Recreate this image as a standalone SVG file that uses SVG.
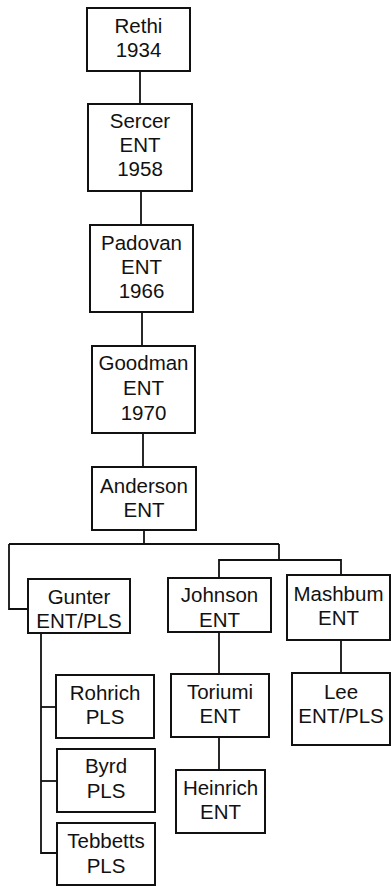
<svg xmlns="http://www.w3.org/2000/svg" width="391" height="887" viewBox="0 0 391 887">
<style>
.box{fill:#fff;stroke:#111;stroke-width:2}
.ln{fill:none;stroke:#111;stroke-width:1.8}
text{font-family:"Liberation Sans",Arial,sans-serif;font-size:20.5px;fill:#111;text-anchor:middle}
</style>
<rect width="391" height="887" fill="#fff"/>
<g id="connectors" class="ln">
<path d="M140 71V104"/>
<path d="M141 191V225"/>
<path d="M142 312V346"/>
<path d="M143 433V467"/>
<path d="M144 530V544"/>
<path d="M9 544H279"/>
<path d="M9 544V609H28"/>
<path d="M279 544V560"/>
<path d="M219 578V560H341V575"/>
<path d="M41 633V853H57"/>
<path d="M41 707H56"/>
<path d="M41 781H57"/>
<path d="M219 632V674"/>
<path d="M219 737V770"/>
<path d="M341 640V673"/>
</g>
<g id="rethi"><rect class="box" x="87" y="8" width="103" height="63"/><text x="138.5" y="33">Rethi</text><text x="138.5" y="57">1934</text></g>
<g id="sercer"><rect class="box" x="88" y="104" width="104" height="87"/><text x="140" y="128">Sercer</text><text x="140" y="152">ENT</text><text x="140" y="176">1958</text></g>
<g id="padovan"><rect class="box" x="90" y="225" width="103" height="87"/><text x="141.5" y="250">Padovan</text><text x="141.5" y="274">ENT</text><text x="141.5" y="298">1966</text></g>
<g id="goodman"><rect class="box" x="92" y="346" width="103" height="87"/><text x="143.5" y="370">Goodman</text><text x="143.5" y="395">ENT</text><text x="143.5" y="420">1970</text></g>
<g id="anderson"><rect class="box" x="92" y="467" width="104" height="63"/><text x="144" y="493">Anderson</text><text x="144" y="517">ENT</text></g>
<g id="gunter"><rect class="box" x="28" y="579" width="102" height="54"/><text x="79" y="604">Gunter</text><text x="79" y="628">ENT/PLS</text></g>
<g id="johnson"><rect class="box" x="168" y="578" width="103" height="54"/><text x="219.5" y="602">Johnson</text><text x="219.5" y="627">ENT</text></g>
<g id="mashbum"><rect class="box" x="287" y="575" width="103" height="65"/><text x="338.5" y="601">Mashbum</text><text x="338.5" y="625">ENT</text></g>
<g id="rohrich"><rect class="box" x="56" y="675" width="98" height="63"/><text x="105" y="700">Rohrich</text><text x="105" y="724">PLS</text></g>
<g id="byrd"><rect class="box" x="57" y="749" width="98" height="63"/><text x="106" y="773">Byrd</text><text x="106" y="798">PLS</text></g>
<g id="tebbetts"><rect class="box" x="57" y="823" width="98" height="62"/><text x="106" y="848">Tebbetts</text><text x="106" y="873">PLS</text></g>
<g id="toriumi"><rect class="box" x="171" y="674" width="98" height="63"/><text x="220" y="699">Toriumi</text><text x="220" y="723">ENT</text></g>
<g id="heinrich"><rect class="box" x="176" y="770" width="89" height="63"/><text x="220.5" y="795">Heinrich</text><text x="220.5" y="819">ENT</text></g>
<g id="lee"><rect class="box" x="292" y="673" width="98" height="72"/><text x="341" y="699">Lee</text><text x="341" y="723">ENT/PLS</text></g>
</svg>
